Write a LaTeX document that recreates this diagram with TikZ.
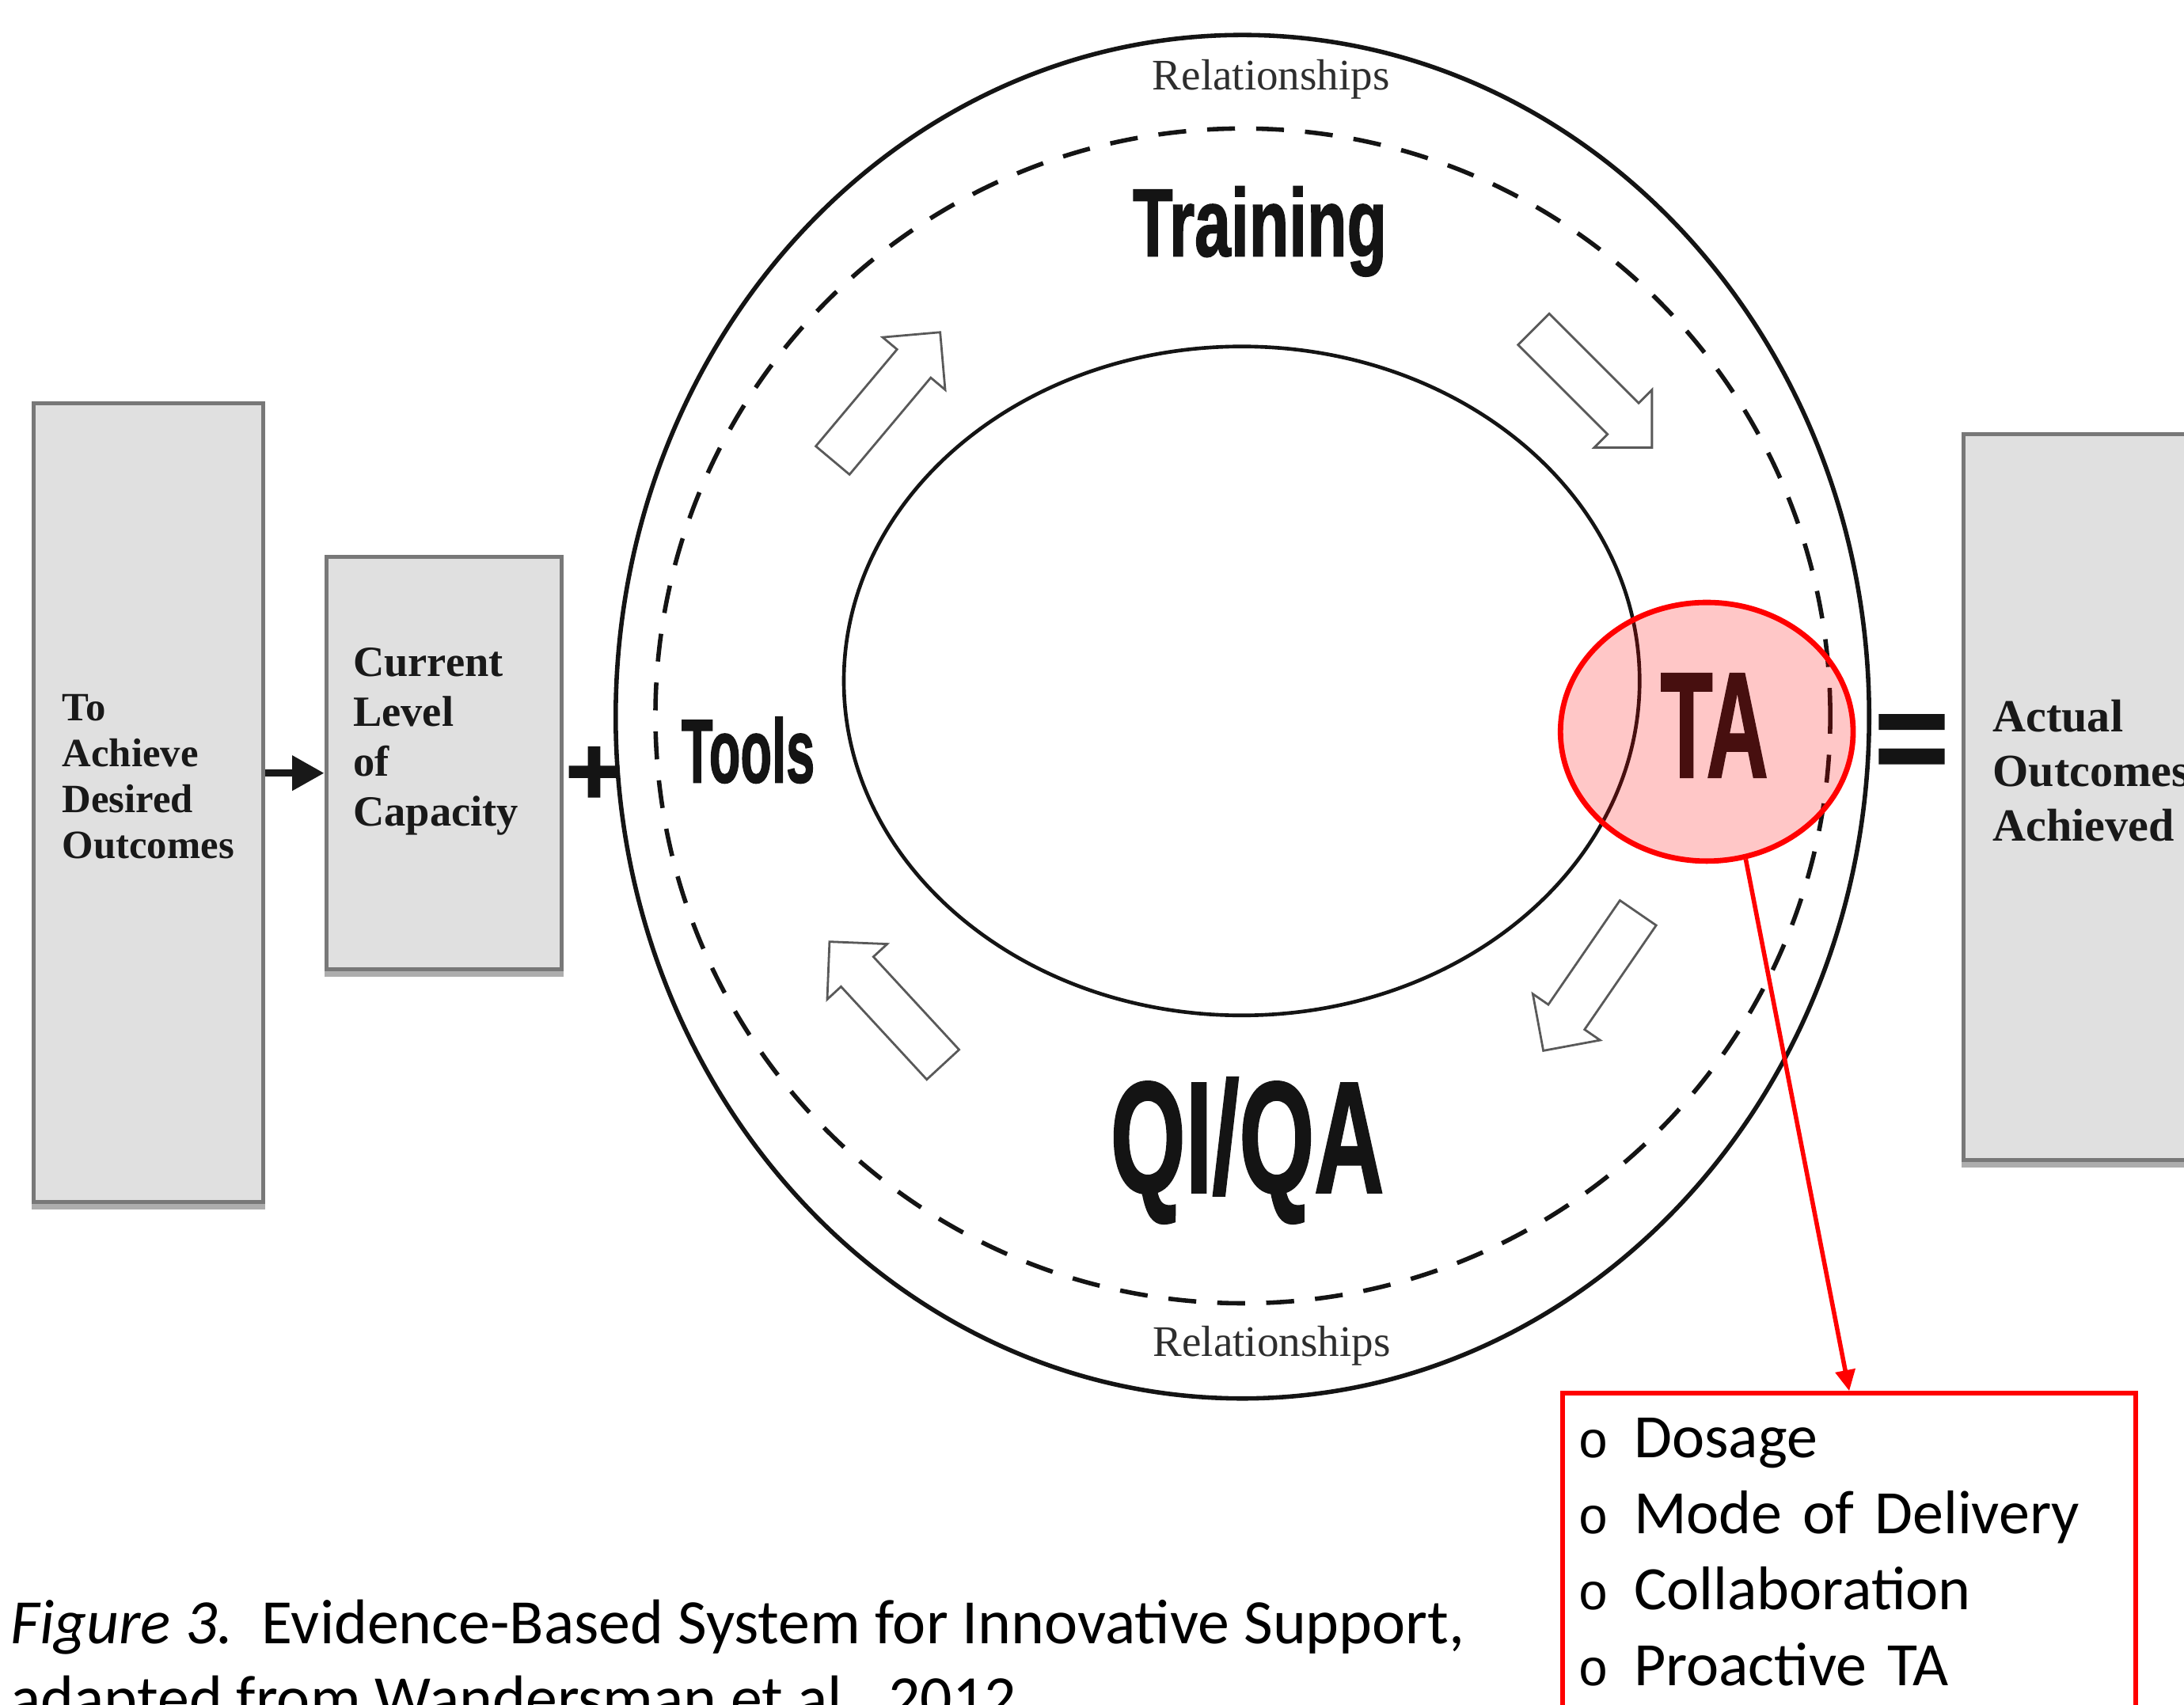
\documentclass[tikz,border=0pt]{standalone}
\usepackage{fontspec}
\setmainfont{Liberation Serif}
\newfontfamily\headfont[BoldFeatures={FakeBold=1.6}]{Liberation Sans}
\newfontfamily\notefont{Carlito}
\newfontfamily\dotfont{Liberation Mono}
\usetikzlibrary{arrows.meta,shapes.geometric,shapes.arrows,shadows}

\newcommand\dotbul{\makebox[0.4cm][l]{\dotfont\fontsize{10.5}{10}\selectfont o}}

\tikzset{
  gbox/.style={rectangle,draw=black!53,fill=black!12,line width=0.8pt,inner sep=0pt,anchor=north west,
    copy shadow={shadow xshift=0pt,shadow yshift=-1.1pt,fill=black!32,draw=black!32}},
  boxtext/.style={anchor=base west,inner sep=0pt,align=left,text=black!90},
  bigword/.style={anchor=base,inner sep=0pt,text=black!92,font=\headfont\bfseries},
  reltext/.style={anchor=base,inner sep=0pt,text=black!82,font=\fontsize{8.9}{10}\selectfont},
  opsign/.style={inner sep=0pt,text=black!92,font=\headfont\bfseries},
  loopdir/.style={single arrow,draw=black!65,line width=0.45pt,fill=white,inner xsep=0pt,inner ysep=0.15cm,
    minimum height=1.2cm,minimum width=0.57cm,single arrow head extend=0.135cm,single arrow tip angle=90,anchor=tip},
  tabubble/.style={ellipse,draw=red,line width=1.1pt,fill=red,fill opacity=0.22,draw opacity=1,
    minimum width=2.1cm,minimum height=1.856cm,inner sep=0pt},
  listframe/.style={rectangle,draw=red,line width=1pt,fill=white,anchor=north west,inner sep=0pt,
    minimum width=4.11cm,minimum height=3cm},
  listtext/.style={anchor=base west,inner sep=0pt,align=left,text width=4cm,font=\notefont\fontsize{12.6}{15.53}\selectfont},
  captext/.style={anchor=base west,inner sep=0pt,font=\notefont\fontsize{12.9}{15.5}\selectfont},
  flowarrow/.style={draw=black!90,line width=1.5pt,-{Triangle[length=0.23cm,width=0.24cm]}},
  calllink/.style={draw=red,line width=0.9pt,-{Triangle[length=0.15cm,width=0.14cm]}},
}

\begin{document}
\begin{tikzpicture}[x=0.01cm,y=-0.01cm]
\useasboundingbox (0,0) rectangle (1568,1224);
\clip (0,0) rectangle (1568,1224);

% the three grey boxes
\node (goalBox) [gbox,minimum width=1.647cm,minimum height=5.73cm] at (22.6,288.1) {};
\node (capBox) [gbox,minimum width=1.688cm,minimum height=2.961cm] at (232.8,398.5) {};
\node (outBox) [gbox,minimum width=2.2cm,minimum height=5.208cm] at (1408.3,310.5) {};
\draw [flowarrow] ([yshift=-2pt]capBox.west -| goalBox.east) -- ([yshift=-2pt]capBox.west);

\node (goalText) [boxtext,text width=1.5cm,font=\fontsize{8.2}{9.34}\selectfont\bfseries] at (44.1,517.7) {To\\Achieve\\Desired\\Outcomes};
\node (capText) [boxtext,text width=1.5cm,font=\fontsize{8.8}{10.2}\selectfont\bfseries] at (252.9,485.5) {Current\\Level\\of\\Capacity};
\node (outText) [boxtext,text width=2cm,font=\fontsize{9.4}{11.14}\selectfont\bfseries] at (1430,525.4) {Actual\\Outcomes\\Achieved};

% rings
\draw [line width=0.9pt,color=black!92] (892,514.6) ellipse [x radius=4.497cm,y radius=4.892cm];
\draw [line width=0.9pt,color=black!92,dash pattern=on 5.7pt off 4.3pt] (892.3,514) circle [radius=4.215cm];
\draw [line width=0.75pt,color=black!92] (891.5,488.9) ellipse [x radius=2.855cm,y radius=2.4cm];

% open arrows round the cycle
\node (toTraining) [loopdir,rotate=50] at (675.7,237.7) {};
\node (toTA) [loopdir,rotate=-45] at (1186.8,322.1) {};
\node (toQI) [loopdir,rotate=235.5] at (1107.4,755.3) {};
\node (toTools) [loopdir,rotate=132.7] at (594.8,675.3) {};

\node (relTop) [reltext] at (912.6,64.4) {Relationships};
\node (relBottom) [reltext] at (913,974) {Relationships};
\node (trainWord) [bigword] at (904.5,183.8) {\fontsize{19.6}{20}\selectfont\scalebox{0.68}[1]{Training}};
\node (toolWord) [bigword] at (537.1,561.7) {\fontsize{18.4}{19}\selectfont\scalebox{0.57}[1]{Tools}};
\node (qiqaWord) [bigword] at (895.4,856) {\fontsize{32.3}{33}\selectfont\scalebox{0.61}[1]{QI/QA}};
\node (taWord) [bigword] at (1230.8,557.9) {\fontsize{30.6}{31}\selectfont\scalebox{0.57}[1]{TA}};

\node (plusSign) [opsign,font=\headfont\bfseries\fontsize{20}{20}\selectfont] at (426.5,557) {+};
\node (eqSign) [opsign,font=\headfont\bfseries\fontsize{26}{26}\selectfont] at (1372.5,537.2) {=};

% TA highlight and its list
\node (taBubble) [tabubble] at (1225.4,525.4) {};
\node (taList) [listframe] at (1120.3,998.7) {};
\draw [calllink] (taBubble.-73) -- (taList.north);
\node (taItems) [listtext] at (1132.4,1046.6) {\dotbul Dosage\\\dotbul Mode of Delivery\\\dotbul Collaboration\\\dotbul Proactive TA};

\node (capLineA) [captext] at (7,1180) {\textit{Figure 3.}\ \ Evidence-Based System for Innovative Support,};
\node (capLineB) [captext] at (7,1234.6) {adapted from Wandersman et al., 2012};
\end{tikzpicture}
\end{document}
